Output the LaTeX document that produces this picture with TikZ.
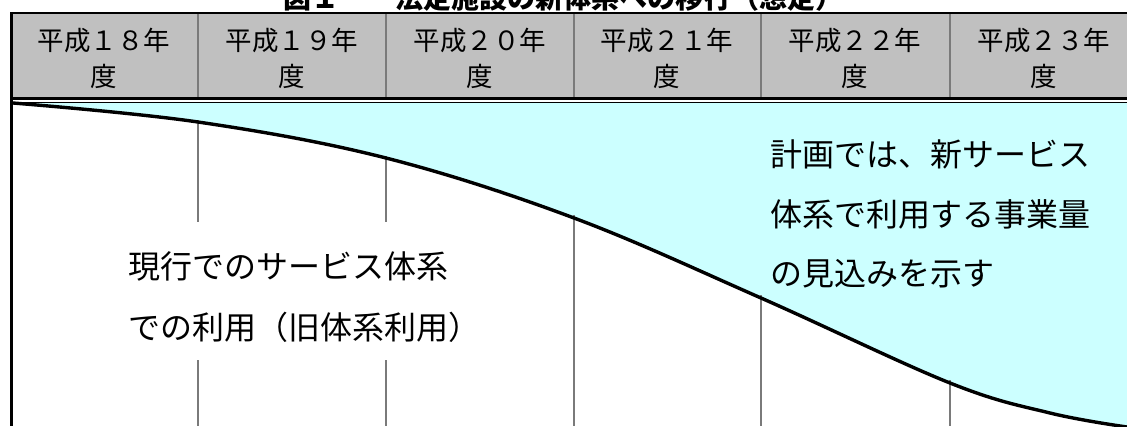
\documentclass[tikz,border=0pt]{standalone}
\usepackage{fontspec}
\newfontfamily\jp{Noto Sans CJK JP}
\definecolor{hdrgray}{HTML}{C0C0C0}
\definecolor{lightcyan}{HTML}{CCFFFF}
\definecolor{divgray}{HTML}{7A7A7A}
\tikzset{
  hdrtext/.style={font=\jp\fontsize{26.5pt}{30pt}\selectfont, inner sep=0pt, anchor=center},
  bodytext/.style={font=\jp\fontsize{32pt}{36pt}\selectfont, inner sep=0pt, anchor=west},
  hdrdiv/.style={draw=divgray, line width=2.6pt},
  bodydiv/.style={draw=divgray, line width=1.8pt},
  border/.style={draw=black, line width=2.6pt},
  trend/.style={draw=black, line width=3.4pt, line join=round},
}
\begin{document}
\begin{tikzpicture}[x=1pt,y=-1pt]
\useasboundingbox (0,0) rectangle (1127,426);
\clip (0,0) rectangle (1127,426);
% title (clipped at top, as in the reference)
\node[font=\jp\bfseries\fontsize{28pt}{30pt}\selectfont, anchor=base, inner sep=0pt] (title) at (563,8) {図１　　法定施設の新体系への移行（想定）};
% header background
\fill[hdrgray] (10,13) rectangle (1127,98);
% cyan area
\fill[lightcyan] plot[smooth, tension=0.6] coordinates {(13,103) (198,122) (386,158) (574,218) (761,298) (950,383) (1050,413) (1127,427)} -- (1127,103) -- cycle;
% body dividers
\draw[bodydiv] (198,120) -- (198,222) (198,360) -- (198,426);
\draw[bodydiv] (386,156) -- (386,222) (386,360) -- (386,426);
\draw[bodydiv] (574,215) -- (574,426);
\draw[bodydiv] (761,295) -- (761,426);
\draw[bodydiv] (950,380) -- (950,426);
% trend curve
\draw[trend] plot[smooth, tension=0.6] coordinates {(13,103) (198,122) (386,158) (574,218) (761,298) (950,383) (1050,413) (1127,427)};
% header dividers
\foreach \x in {198,386,574,761,950} \draw[hdrdiv] (\x,13) -- (\x,98);
% header borders
\draw[border] (10,13) -- (1127,13);
\draw[border] (10,98.5) -- (1127,98.5);
\draw[draw=black, line width=1pt] (10,102.5) -- (1127,102.5);
\draw[draw=black, line width=3pt] (11,12) -- (11,426);
% header texts
\node[hdrtext] (y18a) at (104,40) {平成１８年};
\node[hdrtext] (y18b) at (104,76) {度};
\node[hdrtext] (y19a) at (292,40) {平成１９年};
\node[hdrtext] (y19b) at (292,76) {度};
\node[hdrtext] (y20a) at (480,40) {平成２０年};
\node[hdrtext] (y20b) at (480,76) {度};
\node[hdrtext] (y21a) at (667,40) {平成２１年};
\node[hdrtext] (y21b) at (667,76) {度};
\node[hdrtext] (y22a) at (855,40) {平成２２年};
\node[hdrtext] (y22b) at (855,76) {度};
\node[hdrtext] (y23a) at (1044,40) {平成２３年};
\node[hdrtext] (y23b) at (1044,76) {度};
% body texts
\node[bodytext] (new1) at (770,154) {計画では、新サービス};
\node[bodytext] (new2) at (770,214) {体系で利用する事業量};
\node[bodytext] (new3) at (770,274) {の見込みを示す};
\node[bodytext] (old1) at (128,266) {現行でのサービス体系};
\node[bodytext] (old2) at (128,327) {での利用（旧体系利用）};
\end{tikzpicture}
\end{document}
